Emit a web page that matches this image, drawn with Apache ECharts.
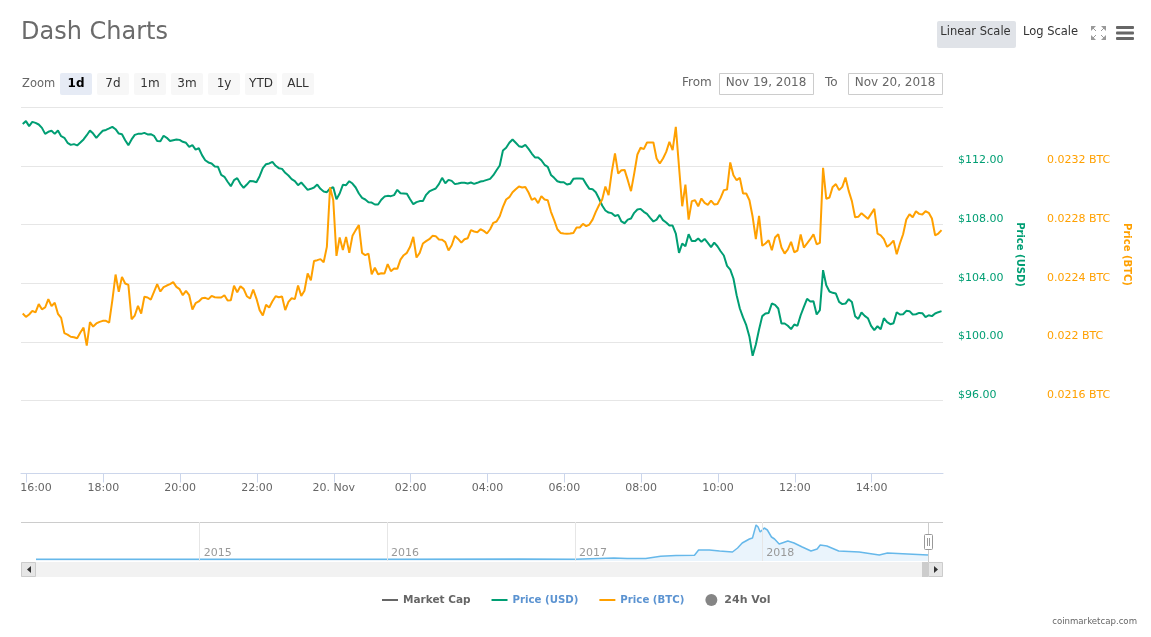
<!DOCTYPE html>
<html>
<head>
<meta charset="utf-8">
<title>Dash Charts</title>
<script src="https://cdn.jsdelivr.net/npm/echarts@6/dist/echarts.min.js"></script>
<style>
  html, body { margin: 0; padding: 0; background: #fff; }
  #chart { width: 1151px; height: 637px; }
</style>
</head>
<body>
<div id="chart"></div>
<script>
// price samples, one every 5 minutes
var priceUsd = [
  114.88,115.07,114.73,115.02,114.95,114.84,114.61,114.20,114.34,114.41,114.20,114.43,114.04,113.93,113.59,113.45,113.50,113.41,113.61,113.82,
  114.11,114.43,114.22,113.93,114.18,114.41,114.47,114.57,114.68,114.52,114.22,114.18,113.77,113.43,113.82,114.13,114.20,114.20,114.27,114.16,
  114.18,114.07,113.72,113.70,114.07,113.93,113.72,113.77,113.82,113.79,113.66,113.59,113.31,113.43,113.13,113.22,112.75,112.40,112.25,112.18,
  111.97,111.95,111.40,111.27,110.93,110.63,111.04,111.18,110.79,110.52,110.74,110.99,110.97,110.90,111.31,111.86,112.13,112.18,112.29,112.02,
  111.86,111.81,111.54,111.36,111.11,110.97,110.70,110.88,110.63,110.38,110.45,110.54,110.74,110.45,110.27,110.22,110.47,110.56,109.74,110.13,
  110.72,110.70,110.97,110.81,110.54,110.13,109.83,109.72,109.54,109.51,109.38,109.38,109.70,109.92,109.97,109.95,110.02,110.38,110.15,110.13,
  110.11,109.74,109.40,109.54,109.61,109.61,110.04,110.27,110.38,110.47,110.77,111.20,110.83,111.06,110.99,110.77,110.81,110.86,110.86,110.81,
  110.88,110.79,110.86,110.95,110.99,111.06,111.13,111.38,111.72,112.04,113.06,113.25,113.59,113.82,113.59,113.36,113.31,113.45,113.18,112.86,
  112.59,112.59,112.40,112.09,111.95,111.40,111.20,110.97,110.90,110.90,110.74,110.79,111.13,111.15,111.15,111.13,110.77,110.45,110.42,110.22,
  109.79,109.31,108.97,108.83,108.79,108.60,108.67,108.22,108.10,108.35,108.42,108.81,109.04,109.08,108.88,108.74,108.47,108.22,108.35,108.67,
  108.31,108.15,107.94,107.94,107.40,106.08,106.72,106.53,107.35,106.88,106.88,107.06,106.83,107.03,106.76,106.47,106.78,106.53,106.19,105.90,
  105.19,104.94,104.33,103.19,102.28,101.67,101.14,100.35,99.05,99.82,100.85,101.76,101.94,101.98,102.62,102.53,102.28,101.26,101.26,101.10,
  100.87,101.19,101.10,101.82,102.39,102.94,102.76,102.78,101.87,102.17,104.90,103.87,103.44,103.35,103.30,102.73,102.58,102.62,102.92,102.73,
  101.76,101.57,102.01,101.78,101.62,101.10,100.80,101.07,100.87,101.62,101.35,101.21,101.28,102.03,101.87,101.89,102.12,102.10,101.87,101.89,
  101.98,101.96,101.69,101.82,101.76,101.94,102.03,102.10
]
var priceBtc = [
  0.022194,0.022171,0.022187,0.022212,0.022201,0.022258,0.022223,0.022235,0.022292,0.022244,0.022267,0.022192,0.022164,0.022060,0.022050,0.022035,0.022032,0.022025,0.022064,0.022098,
  0.021975,0.022135,0.022105,0.022126,0.022137,0.022144,0.022144,0.022132,0.022285,0.022460,0.022342,0.022444,0.022399,0.022389,0.022155,0.022180,0.022246,0.022194,0.022308,0.022303,
  0.022289,0.022342,0.022394,0.022344,0.022374,0.022385,0.022394,0.022408,0.022376,0.022360,0.022319,0.022349,0.022319,0.022221,0.022264,0.022276,0.022298,0.022301,0.022292,0.022314,
  0.022305,0.022303,0.022303,0.022319,0.022283,0.022285,0.022383,0.022339,0.022380,0.022362,0.022312,0.022296,0.022358,0.022296,0.022217,0.022180,0.022253,0.022235,0.022278,0.022312,
  0.022305,0.022310,0.022217,0.022273,0.022298,0.022292,0.022385,0.022314,0.022349,0.022467,0.022421,0.022553,0.022558,0.022565,0.022544,0.022649,0.023056,0.022967,0.022587,0.022713,
  0.022628,0.022717,0.022608,0.022724,0.022763,0.022797,0.022608,0.022592,0.022603,0.022462,0.022506,0.022462,0.022469,0.022467,0.022531,0.022483,0.022501,0.022499,0.022562,0.022592,
  0.022608,0.022649,0.022717,0.022576,0.022608,0.022672,0.022688,0.022701,0.022724,0.022722,0.022699,0.022697,0.022681,0.022624,0.022660,0.022724,0.022703,0.022678,0.022701,0.022708,
  0.022763,0.022754,0.022749,0.022769,0.022758,0.022740,0.022769,0.022813,0.022822,0.022858,0.022922,0.022972,0.022988,0.023022,0.023042,0.023061,0.023054,0.023058,0.023020,0.022970,
  0.022981,0.022947,0.022995,0.022972,0.022967,0.022888,0.022831,0.022769,0.022744,0.022740,0.022738,0.022740,0.022744,0.022781,0.022781,0.022806,0.022790,0.022801,0.022835,0.022888,
  0.022933,0.022972,0.023061,0.023002,0.023161,0.023286,0.023149,0.023172,0.023174,0.023104,0.023029,0.023149,0.023279,0.023325,0.023316,0.023361,0.023361,0.023361,0.023252,0.023218,
  0.023252,0.023297,0.023366,0.023309,0.023468,0.023195,0.022926,0.023074,0.022835,0.022961,0.022967,0.022926,0.022979,0.022949,0.022936,0.022965,0.022938,0.022942,0.022983,0.023036,
  0.023040,0.023225,0.023138,0.023104,0.023120,0.023013,0.023013,0.022967,0.022854,0.022701,0.022860,0.022656,0.022672,0.022694,0.022626,0.022713,0.022735,0.022644,0.022603,0.022631,
  0.022683,0.022612,0.022624,0.022733,0.022644,0.022672,0.022701,0.022735,0.022667,0.022676,0.023188,0.022977,0.022986,0.023058,0.023077,0.023036,0.023058,0.023122,0.023031,0.022961,
  0.022851,0.022854,0.022879,0.022860,0.022840,0.022874,0.022908,0.022740,0.022728,0.022701,0.022649,0.022667,0.022692,0.022599,0.022672,0.022735,0.022835,0.022872,0.022851,0.022892,
  0.022874,0.022870,0.022892,0.022881,0.022842,0.022728,0.022740,0.022763
]
var firstSample = Date.UTC(2018, 10, 19, 15, 54, 6)
var sampleStep = 5 * 60 * 1000
var axisStart = Date.UTC(2018, 10, 19, 15, 51, 24)

var timeTicks = [
  '2018-11-19T16:00:00Z', '2018-11-19T18:00:00Z', '2018-11-19T20:00:00Z', '2018-11-19T22:00:00Z',
  '2018-11-20T00:00:00Z', '2018-11-20T02:00:00Z', '2018-11-20T04:00:00Z', '2018-11-20T06:00:00Z',
  '2018-11-20T08:00:00Z', '2018-11-20T10:00:00Z', '2018-11-20T12:00:00Z', '2018-11-20T14:00:00Z'
]
var timeLabels = ['16:00', '18:00', '20:00', '22:00', '20. Nov', '02:00', '04:00', '06:00', '08:00', '10:00', '12:00', '14:00']
var usdTicks = [96, 100, 104, 108, 112]
var usdLines = [96, 100, 104, 108, 112, 116]
var btcTicks = [0.0216, 0.022, 0.0224, 0.0228, 0.0232]

// navigator, whole history
var navDates = [
  '2014-02-16', '2015-01-01', '2016-01-01', '2016-09-15', '2017-01-01', '2017-03-18', '2017-04-13', '2017-05-19',
  '2017-06-17', '2017-07-17', '2017-08-22', '2017-08-30', '2017-09-20', '2017-10-10', '2017-11-04', '2017-11-14',
  '2017-11-23', '2017-12-07', '2017-12-13', '2017-12-20', '2017-12-24', '2017-12-28', '2018-01-05', '2018-01-11',
  '2018-01-19', '2018-01-25', '2018-02-03', '2018-02-20', '2018-03-04', '2018-03-20', '2018-04-06', '2018-04-18',
  '2018-04-24', '2018-05-07', '2018-05-30', '2018-07-09', '2018-08-17', '2018-09-02', '2018-11-20'
]
var navValues = [
  80, 80, 80, 90, 80, 135, 108, 108,
  216, 248, 261, 495, 495, 450, 405, 585,
  810, 990, 1035, 1620, 1530, 1305, 1485, 1395,
  1080, 990, 765, 900, 810, 630, 450, 540,
  720, 675, 450, 405, 270, 360, 270
]
var navYears = ['2015-01-01', '2016-01-01', '2017-01-01', '2018-01-01']

var zoomLabels = ['1d', '7d', '1m', '3m', '1y', 'YTD', 'ALL']
var legendNames = ['Market Cap', 'Price (USD)', 'Price (BTC)', '24h Vol']

var FONT = '"DejaVu Sans", sans-serif'
var GREEN = '#009e73'
var ORANGE = '#ffa000'

function pairs (values) {
  return values.map(function (v, i) { return [firstSample + i * sampleStep, v] })
}

function txt (x, y, text, size, color, align, weight) {
  return {
    type: 'text',
    silent: true,
    style: {
      x: x, y: y, text: text, fill: color, align: align || 'left', verticalAlign: 'middle',
      font: (weight || 'normal') + ' ' + size + 'px ' + FONT
    }
  }
}

function box (x, y, w, h, fill, stroke, r) {
  return {
    type: 'rect',
    silent: true,
    shape: { x: x, y: y, width: w, height: h, r: r || 0 },
    style: { fill: fill, stroke: stroke || null, lineWidth: stroke ? 1 : 0 }
  }
}

function seg (x1, y1, x2, y2, color, width) {
  return {
    type: 'line',
    silent: true,
    shape: { x1: x1, y1: y1, x2: x2, y2: y2 },
    style: { stroke: color, lineWidth: width || 1 }
  }
}

function tri (points, fill) {
  return { type: 'polygon', silent: true, shape: { points: points }, style: { fill: fill } }
}

// buttons, date inputs and the scrollbar around the plot
var chrome = []
chrome.push(txt(22, 84, 'Zoom', 11.5, '#666'))
zoomLabels.forEach(function (label, i) {
  var x = 60 + 37 * i
  chrome.push(box(x, 73, 32, 22, i === 0 ? '#e6ebf5' : '#f7f7f7', null, 2))
  chrome.push(txt(x + 16, 83.5, label, 12, i === 0 ? '#000' : '#333', 'center', i === 0 ? 'bold' : 'normal'))
})
chrome.push(box(937, 21, 79, 27, '#e0e3e8', null, 2))
chrome.push(txt(975.5, 32.5, 'Linear Scale', 11.5, '#333', 'center'))
chrome.push(txt(1023, 32.5, 'Log Scale', 11.5, '#333'))
// fullscreen icon
chrome.push(tri([[1091, 26], [1096, 26], [1091, 31]], '#999'), seg(1092, 27, 1096, 31, '#999'))
chrome.push(tri([[1106, 26], [1101, 26], [1106, 31]], '#999'), seg(1105, 27, 1101, 31, '#999'))
chrome.push(tri([[1091, 40], [1096, 40], [1091, 35]], '#999'), seg(1092, 39, 1096, 35, '#999'))
chrome.push(tri([[1106, 40], [1101, 40], [1106, 35]], '#999'), seg(1105, 39, 1101, 35, '#999'))
// menu icon
chrome.push(box(1116, 26, 18, 3, '#666', null, 1), box(1116, 31.5, 18, 3, '#666', null, 1), box(1116, 37, 18, 3, '#666', null, 1))
chrome.push(txt(682, 83, 'From', 12, '#666'))
chrome.push(box(719.5, 73.5, 94, 21, '#fff', '#ccc'))
chrome.push(txt(766, 83, 'Nov 19, 2018', 12, '#666', 'center'))
chrome.push(txt(825, 83, 'To', 12, '#666'))
chrome.push(box(848.5, 73.5, 94, 21, '#fff', '#ccc'))
chrome.push(txt(895, 83, 'Nov 20, 2018', 12, '#666', 'center'))
// scrollbar
chrome.push(seg(21, 522.5, 943, 522.5, '#ccc'))
chrome.push(box(21, 562, 922, 15, '#f2f2f2'))
chrome.push(box(21.5, 562.5, 14, 14, '#e6e6e6', '#ccc'))
chrome.push(tri([[31, 566], [31, 573], [27, 569.5]], '#333'))
chrome.push(box(922, 562, 6, 15, '#ccc'))
chrome.push(box(928.5, 562.5, 14, 14, '#e6e6e6', '#ccc'))
chrome.push(tri([[934, 566], [934, 573], [938, 569.5]], '#333'))
chrome.push(seg(928.5, 522, 928.5, 562, '#ccc'))
chrome.push(box(924.5, 534.5, 8, 15, '#fff', '#999', 1))
chrome.push(seg(927.5, 538, 927.5, 546, '#999'), seg(929.5, 538, 929.5, 546, '#999'))
chrome.push(txt(1137, 621.5, 'coinmarketcap.com', 8.6, '#666', 'right'))

var lineIcon = 'path://M0 0h16v2H0z'
var myChart = echarts.init(document.getElementById('chart'))
myChart.setOption({
  animation: false,
  backgroundColor: '#fff',
  title: {
    text: 'Dash Charts',
    left: 21,
    top: 21,
    padding: 0,
    textStyle: { fontFamily: FONT, fontSize: 24, fontWeight: 'normal', color: '#6b6b6b' }
  },
  legend: {
    left: 382,
    top: 594,
    padding: 0,
    itemWidth: 16,
    itemHeight: 12,
    itemGap: 21,
    selectedMode: false,
    textStyle: { fontFamily: FONT, fontSize: 10.2, fontWeight: 'bold' },
    data: [
      { name: legendNames[0], icon: lineIcon, textStyle: { color: '#666', fontSize: 10.5 } },
      { name: legendNames[1], icon: lineIcon, textStyle: { color: '#5b93d1' } },
      { name: legendNames[2], icon: lineIcon, textStyle: { color: '#5b93d1' } },
      { name: legendNames[3], icon: 'circle', textStyle: { color: '#666', fontSize: 11 } }
    ]
  },
  grid: [
    { left: 21, top: 107.5, width: 922, height: 366 },
    { left: 36, top: 522, width: 892, height: 39 }
  ],
  xAxis: [{
    // plain numeric axis holding epoch ms, ticks come from timeTicks
    type: 'value',
    gridIndex: 0,
    min: axisStart,
    max: axisStart + 24 * 3600 * 1000,
    axisLine: { lineStyle: { color: '#ccd6eb', width: 1 } },
    axisTick: { length: 9, lineStyle: { color: '#ccd6eb' }, customValues: timeTicks.map(Date.parse) },
    splitLine: { show: false },
    axisLabel: {
      customValues: timeTicks.map(Date.parse),
      margin: 9,
      fontFamily: FONT,
      fontSize: 11,
      color: '#666',
      hideOverlap: false,
      rich: { first: { padding: [0, 0, 0, 19], fontFamily: FONT, fontSize: 11, color: '#666' } },
      formatter: function (value) {
        var label = timeLabels[timeTicks.map(Date.parse).indexOf(value)]
        return value === Date.parse(timeTicks[0]) ? '{first|' + label + '}' : label
      }
    }
  }, {
    type: 'value',
    gridIndex: 1,
    z: 5,
    min: Date.parse(navDates[0]),
    max: Date.parse(navDates[navDates.length - 1]),
    axisLine: { show: false },
    axisTick: { show: false, customValues: navYears.map(Date.parse) },
    splitLine: { show: true, lineStyle: { color: '#e6e6e6' } },
    axisLabel: {
      customValues: navYears.map(Date.parse),
      inside: true,
      margin: 2,
      align: 'left',
      padding: [0, 0, 0, 4],
      fontFamily: FONT,
      fontSize: 11,
      color: '#999',
      formatter: function (value) { return String(new Date(value).getUTCFullYear()) }
    }
  }],
  yAxis: [{
    type: 'value',
    gridIndex: 0,
    position: 'right',
    min: 91.02,
    max: 116,
    name: 'Price (USD)',
    nameLocation: 'middle',
    nameRotate: -90,
    nameGap: 71,
    nameTextStyle: { color: GREEN, fontFamily: FONT, fontSize: 10, fontWeight: 'bold', padding: [0, 72, 0, 0] },
    axisLine: { show: false },
    axisTick: { show: false, customValues: usdLines },
    splitLine: { show: true, lineStyle: { color: '#e6e6e6' } },
    axisLabel: {
      customValues: usdTicks,
      margin: 15,
      fontFamily: FONT,
      fontSize: 11,
      color: GREEN,
      verticalAlign: 'bottom',
      formatter: function (value) { return '$' + value.toFixed(2) }
    }
  }, {
    type: 'value',
    gridIndex: 0,
    position: 'right',
    min: 0.021102,
    max: 0.0236,
    name: 'Price (BTC)',
    nameLocation: 'middle',
    nameRotate: -90,
    nameGap: 175,
    nameTextStyle: { color: ORANGE, fontFamily: FONT, fontSize: 10, fontWeight: 'bold', padding: [0, 72, 0, 0] },
    axisLine: { show: false },
    axisTick: { show: false },
    splitLine: { show: false },
    axisLabel: {
      customValues: btcTicks,
      margin: 104,
      fontFamily: FONT,
      fontSize: 11,
      color: ORANGE,
      verticalAlign: 'bottom',
      formatter: function (value) { return value + ' BTC' }
    }
  }, {
    type: 'value',
    gridIndex: 1,
    min: 0,
    max: 1755,
    axisLine: { show: false },
    axisTick: { show: false },
    splitLine: { show: false },
    axisLabel: { show: false }
  }],
  series: [{
    name: legendNames[0],
    type: 'line',
    xAxisIndex: 0,
    yAxisIndex: 0,
    color: '#666',
    data: []
  }, {
    name: legendNames[1],
    type: 'line',
    xAxisIndex: 0,
    yAxisIndex: 0,
    color: GREEN,
    showSymbol: false,
    lineStyle: { width: 2 },
    data: pairs(priceUsd)
  }, {
    name: legendNames[2],
    type: 'line',
    xAxisIndex: 0,
    yAxisIndex: 1,
    color: ORANGE,
    showSymbol: false,
    lineStyle: { width: 2 },
    data: pairs(priceBtc)
  }, {
    name: legendNames[3],
    type: 'scatter',
    xAxisIndex: 0,
    yAxisIndex: 0,
    color: '#666',
    data: []
  }, {
    name: 'Navigator',
    type: 'line',
    xAxisIndex: 1,
    yAxisIndex: 2,
    color: '#66b8ea',
    showSymbol: false,
    lineStyle: { width: 1.5 },
    areaStyle: { color: '#eaf4fc', opacity: 1 },
    data: navDates.map(function (d, i) { return [Date.parse(d), navValues[i]] })
  }],
  graphic: chrome
})
</script>
</body>
</html>
